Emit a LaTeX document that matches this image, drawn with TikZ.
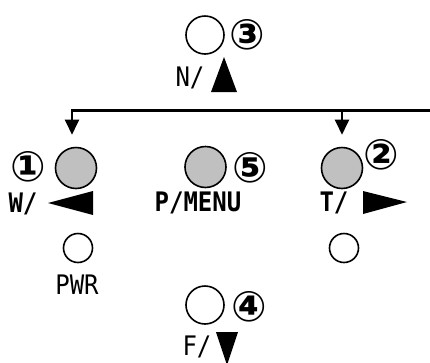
\documentclass[tikz,border=0pt]{standalone}
\usepackage{fontspec}
\usetikzlibrary{arrows.meta}
\newfontfamily\lblfont{DejaVu Sans Mono}
\newfontfamily\numfont{DejaVu Sans}
\definecolor{btngray}{RGB}{192,192,192}
\begin{document}
\begin{tikzpicture}[x=1bp,y=-1bp,
  btn/.style={circle,draw,line width=1.6bp,minimum size=41bp,inner sep=0,fill=btngray},
  key/.style={circle,draw,line width=1.6bp,minimum size=38bp,inner sep=0,fill=white},
  led/.style={circle,draw,line width=1.6bp,minimum size=29bp,inner sep=0,fill=white},
  num/.style={inner sep=0,font=\numfont\bfseries\fontsize{42bp}{42bp}\selectfont},
  lbl/.style={inner sep=0,font=\lblfont\fontsize{24bp}{24bp}\selectfont},
  blbl/.style={inner sep=0,font=\lblfont\bfseries\fontsize{24bp}{24bp}\selectfont},
  tri/.style={fill=black},
  conn/.style={line width=2.4bp,-{Triangle[length=15bp,width=14bp]},shorten >=12bp}]
\useasboundingbox (0,0) rectangle (430,363);
% top key
\node[key] (k3) at (205,35) {};
\node[num] (n3) at (247,35) {③};
\node[lbl] (tN) at (190,78) {\scalebox{1}[1.12]{N/}};
\fill[tri] (224,57) -- (237,92) -- (211,92) -- cycle;
% buttons
\node[btn] (b1) at (76,168) {};
\node[btn] (b5) at (205.5,167) {};
\node[btn] (b2) at (342,168) {};
\node[num] (n1) at (28,167) {①};
\node[num] (n5) at (250,168) {⑤};
\node[num] (n2) at (381,155) {②};
\node[blbl] (tW) at (23,204) {\scalebox{1}[1.12]{W/}};
\node[blbl] (tP) at (198,203) {\scalebox{1}[1.12]{P/MENU}};
\node[blbl] (tT) at (334,203) {\scalebox{1}[1.12]{T/}};
\fill[tri] (48,203) -- (93,191) -- (93,215) -- cycle;
\fill[tri] (407,202) -- (363,191) -- (363,214) -- cycle;
% connectors
\coordinate (rend) at (430,110.5);
\draw[conn] (rend) -| ([xshift=-4bp]b1.north);
\draw[conn] (b2.north |- rend) -- (b2.north);
% leds
\node[led] (l1) at (78,248) {};
\node[led] (l2) at (344,248) {};
\node[lbl] (tPWR) at (77,285) {\scalebox{1}[1.12]{PWR}};
% bottom key
\node[key] (k4) at (205,305) {};
\node[num] (n4) at (249,307) {④};
\node[lbl] (tF) at (197,347) {\scalebox{1}[1.12]{F/}};
\fill[tri] (216,332) -- (238,332) -- (227,365) -- cycle;
\end{tikzpicture}
\end{document}
